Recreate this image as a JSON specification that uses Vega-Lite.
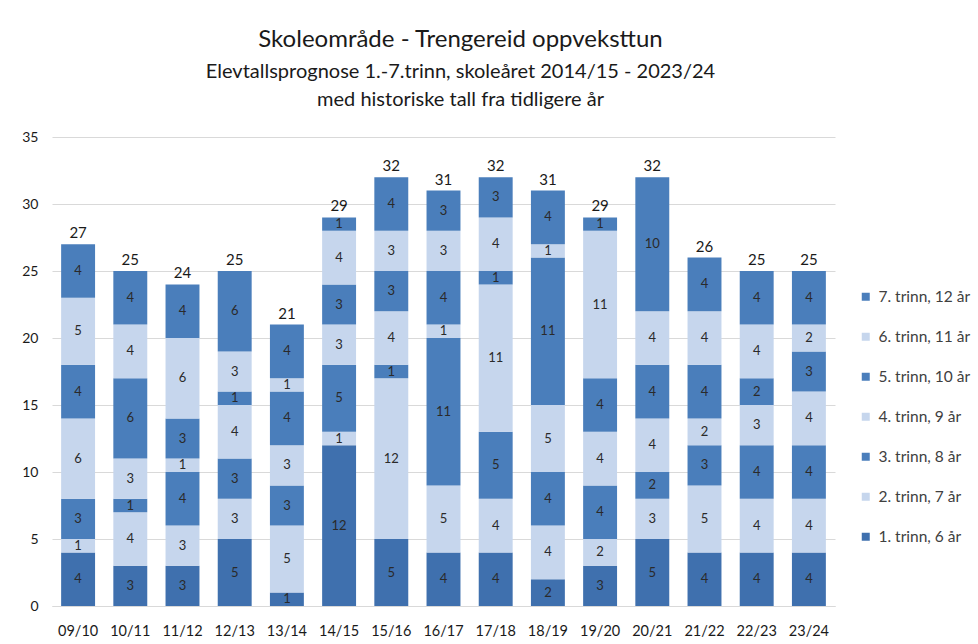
{
 "$schema": "https://vega.github.io/schema/vega-lite/v6.json",
 "width": 783, "height": 469,
 "autosize": {"type": "none"},
 "padding": {"left": 52, "top": 137, "right": 143, "bottom": 38},
 "background": "white",
 "config": {"font": "Lato", "view": {"stroke": null}},
 "title": {
  "text": "Skoleområde - Trengereid oppveksttun",
  "subtitle": ["Elevtallsprognose 1.-7.trinn, skoleåret 2014/15 - 2023/24", "med historiske tall fra tidligere år"],
  "fontSize": 24, "fontWeight": "normal", "subtitleFontSize": 20,
  "color": "#1a1a1a", "subtitleColor": "#1a1a1a",
  "anchor": "middle", "dx": 17, "offset": 20, "subtitlePadding": 10, "subtitleLineHeight": 28
 },
 "datasets": {
  "d": [
   {"year":"09/10","grade":"1. trinn, 6 år","g":1,"v":4},{"year":"09/10","grade":"2. trinn, 7 år","g":2,"v":1},{"year":"09/10","grade":"3. trinn, 8 år","g":3,"v":3},{"year":"09/10","grade":"4. trinn, 9 år","g":4,"v":6},{"year":"09/10","grade":"5. trinn, 10 år","g":5,"v":4},{"year":"09/10","grade":"6. trinn, 11 år","g":6,"v":5},{"year":"09/10","grade":"7. trinn, 12 år","g":7,"v":4},
   {"year":"10/11","grade":"1. trinn, 6 år","g":1,"v":3},{"year":"10/11","grade":"2. trinn, 7 år","g":2,"v":4},{"year":"10/11","grade":"3. trinn, 8 år","g":3,"v":1},{"year":"10/11","grade":"4. trinn, 9 år","g":4,"v":3},{"year":"10/11","grade":"5. trinn, 10 år","g":5,"v":6},{"year":"10/11","grade":"6. trinn, 11 år","g":6,"v":4},{"year":"10/11","grade":"7. trinn, 12 år","g":7,"v":4},
   {"year":"11/12","grade":"1. trinn, 6 år","g":1,"v":3},{"year":"11/12","grade":"2. trinn, 7 år","g":2,"v":3},{"year":"11/12","grade":"3. trinn, 8 år","g":3,"v":4},{"year":"11/12","grade":"4. trinn, 9 år","g":4,"v":1},{"year":"11/12","grade":"5. trinn, 10 år","g":5,"v":3},{"year":"11/12","grade":"6. trinn, 11 år","g":6,"v":6},{"year":"11/12","grade":"7. trinn, 12 år","g":7,"v":4},
   {"year":"12/13","grade":"1. trinn, 6 år","g":1,"v":5},{"year":"12/13","grade":"2. trinn, 7 år","g":2,"v":3},{"year":"12/13","grade":"3. trinn, 8 år","g":3,"v":3},{"year":"12/13","grade":"4. trinn, 9 år","g":4,"v":4},{"year":"12/13","grade":"5. trinn, 10 år","g":5,"v":1},{"year":"12/13","grade":"6. trinn, 11 år","g":6,"v":3},{"year":"12/13","grade":"7. trinn, 12 år","g":7,"v":6},
   {"year":"13/14","grade":"1. trinn, 6 år","g":1,"v":1},{"year":"13/14","grade":"2. trinn, 7 år","g":2,"v":5},{"year":"13/14","grade":"3. trinn, 8 år","g":3,"v":3},{"year":"13/14","grade":"4. trinn, 9 år","g":4,"v":3},{"year":"13/14","grade":"5. trinn, 10 år","g":5,"v":4},{"year":"13/14","grade":"6. trinn, 11 år","g":6,"v":1},{"year":"13/14","grade":"7. trinn, 12 år","g":7,"v":4},
   {"year":"14/15","grade":"1. trinn, 6 år","g":1,"v":12},{"year":"14/15","grade":"2. trinn, 7 år","g":2,"v":1},{"year":"14/15","grade":"3. trinn, 8 år","g":3,"v":5},{"year":"14/15","grade":"4. trinn, 9 år","g":4,"v":3},{"year":"14/15","grade":"5. trinn, 10 år","g":5,"v":3},{"year":"14/15","grade":"6. trinn, 11 år","g":6,"v":4},{"year":"14/15","grade":"7. trinn, 12 år","g":7,"v":1},
   {"year":"15/16","grade":"1. trinn, 6 år","g":1,"v":5},{"year":"15/16","grade":"2. trinn, 7 år","g":2,"v":12},{"year":"15/16","grade":"3. trinn, 8 år","g":3,"v":1},{"year":"15/16","grade":"4. trinn, 9 år","g":4,"v":4},{"year":"15/16","grade":"5. trinn, 10 år","g":5,"v":3},{"year":"15/16","grade":"6. trinn, 11 år","g":6,"v":3},{"year":"15/16","grade":"7. trinn, 12 år","g":7,"v":4},
   {"year":"16/17","grade":"1. trinn, 6 år","g":1,"v":4},{"year":"16/17","grade":"2. trinn, 7 år","g":2,"v":5},{"year":"16/17","grade":"3. trinn, 8 år","g":3,"v":11},{"year":"16/17","grade":"4. trinn, 9 år","g":4,"v":1},{"year":"16/17","grade":"5. trinn, 10 år","g":5,"v":4},{"year":"16/17","grade":"6. trinn, 11 år","g":6,"v":3},{"year":"16/17","grade":"7. trinn, 12 år","g":7,"v":3},
   {"year":"17/18","grade":"1. trinn, 6 år","g":1,"v":4},{"year":"17/18","grade":"2. trinn, 7 år","g":2,"v":4},{"year":"17/18","grade":"3. trinn, 8 år","g":3,"v":5},{"year":"17/18","grade":"4. trinn, 9 år","g":4,"v":11},{"year":"17/18","grade":"5. trinn, 10 år","g":5,"v":1},{"year":"17/18","grade":"6. trinn, 11 år","g":6,"v":4},{"year":"17/18","grade":"7. trinn, 12 år","g":7,"v":3},
   {"year":"18/19","grade":"1. trinn, 6 år","g":1,"v":2},{"year":"18/19","grade":"2. trinn, 7 år","g":2,"v":4},{"year":"18/19","grade":"3. trinn, 8 år","g":3,"v":4},{"year":"18/19","grade":"4. trinn, 9 år","g":4,"v":5},{"year":"18/19","grade":"5. trinn, 10 år","g":5,"v":11},{"year":"18/19","grade":"6. trinn, 11 år","g":6,"v":1},{"year":"18/19","grade":"7. trinn, 12 år","g":7,"v":4},
   {"year":"19/20","grade":"1. trinn, 6 år","g":1,"v":3},{"year":"19/20","grade":"2. trinn, 7 år","g":2,"v":2},{"year":"19/20","grade":"3. trinn, 8 år","g":3,"v":4},{"year":"19/20","grade":"4. trinn, 9 år","g":4,"v":4},{"year":"19/20","grade":"5. trinn, 10 år","g":5,"v":4},{"year":"19/20","grade":"6. trinn, 11 år","g":6,"v":11},{"year":"19/20","grade":"7. trinn, 12 år","g":7,"v":1},
   {"year":"20/21","grade":"1. trinn, 6 år","g":1,"v":5},{"year":"20/21","grade":"2. trinn, 7 år","g":2,"v":3},{"year":"20/21","grade":"3. trinn, 8 år","g":3,"v":2},{"year":"20/21","grade":"4. trinn, 9 år","g":4,"v":4},{"year":"20/21","grade":"5. trinn, 10 år","g":5,"v":4},{"year":"20/21","grade":"6. trinn, 11 år","g":6,"v":4},{"year":"20/21","grade":"7. trinn, 12 år","g":7,"v":10},
   {"year":"21/22","grade":"1. trinn, 6 år","g":1,"v":4},{"year":"21/22","grade":"2. trinn, 7 år","g":2,"v":5},{"year":"21/22","grade":"3. trinn, 8 år","g":3,"v":3},{"year":"21/22","grade":"4. trinn, 9 år","g":4,"v":2},{"year":"21/22","grade":"5. trinn, 10 år","g":5,"v":4},{"year":"21/22","grade":"6. trinn, 11 år","g":6,"v":4},{"year":"21/22","grade":"7. trinn, 12 år","g":7,"v":4},
   {"year":"22/23","grade":"1. trinn, 6 år","g":1,"v":4},{"year":"22/23","grade":"2. trinn, 7 år","g":2,"v":4},{"year":"22/23","grade":"3. trinn, 8 år","g":3,"v":4},{"year":"22/23","grade":"4. trinn, 9 år","g":4,"v":3},{"year":"22/23","grade":"5. trinn, 10 år","g":5,"v":2},{"year":"22/23","grade":"6. trinn, 11 år","g":6,"v":4},{"year":"22/23","grade":"7. trinn, 12 år","g":7,"v":4},
   {"year":"23/24","grade":"1. trinn, 6 år","g":1,"v":4},{"year":"23/24","grade":"2. trinn, 7 år","g":2,"v":4},{"year":"23/24","grade":"3. trinn, 8 år","g":3,"v":4},{"year":"23/24","grade":"4. trinn, 9 år","g":4,"v":4},{"year":"23/24","grade":"5. trinn, 10 år","g":5,"v":3},{"year":"23/24","grade":"6. trinn, 11 år","g":6,"v":2},{"year":"23/24","grade":"7. trinn, 12 år","g":7,"v":4}
  ]
 },
 "data": {"name": "d"},
 "encoding": {
  "x": {"field": "year", "type": "nominal", "sort": null,
   "scale": {"paddingInner": 0.35, "paddingOuter": 0.175},
   "axis": {"title": null, "labelAngle": 0, "ticks": false, "domainColor": "#d9d9d9", "labelPadding": 18, "labelFontSize": 14.5, "labelColor": "#1a1a1a"}}
 },
 "layer": [
  {
   "mark": {"type": "bar"},
   "encoding": {
    "y": {"field": "v", "type": "quantitative", "stack": "zero",
     "scale": {"domain": [0, 35], "nice": false},
     "axis": {"title": null, "values": [0,5,10,15,20,25,30,35], "domain": false, "ticks": false, "labelPadding": 14, "labelFontSize": 14, "labelColor": "#1a1a1a", "gridColor": "#d9d9d9"}},
    "color": {"field": "grade", "type": "nominal",
     "scale": {"domain": ["1. trinn, 6 år","2. trinn, 7 år","3. trinn, 8 år","4. trinn, 9 år","5. trinn, 10 år","6. trinn, 11 år","7. trinn, 12 år"],
      "range": ["#3f70ae","#c6d6ed","#4a7ebb","#c6d6ed","#4a7ebb","#c6d6ed","#4a7ebb"]},
     "legend": {"orient": "none", "legendX": 806, "legendY": 152, "title": null,
      "values": ["7. trinn, 12 år","6. trinn, 11 år","5. trinn, 10 år","4. trinn, 9 år","3. trinn, 8 år","2. trinn, 7 år","1. trinn, 6 år"],
      "symbolType": "square", "symbolSize": 64, "symbolStrokeWidth": 0, "labelFontSize": 15.5, "labelColor": "#404040", "rowPadding": 23, "labelOffset": 5}},
    "order": {"field": "g", "type": "quantitative"}
   }
  },
  {
   "transform": [
    {"stack": "v", "groupby": ["year"], "sort": [{"field": "g", "order": "ascending"}], "as": ["y0", "y1"]},
    {"calculate": "(datum.y0 + datum.y1) / 2", "as": "mid"}
   ],
   "mark": {"type": "text", "fontSize": 13, "color": "#2a2a2a", "baseline": "middle"},
   "encoding": {
    "y": {"field": "mid", "type": "quantitative"},
    "text": {"field": "v", "type": "quantitative"}
   }
  },
  {
   "mark": {"type": "text", "fontSize": 15, "color": "#1a1a1a", "baseline": "bottom", "dy": -3},
   "encoding": {
    "y": {"aggregate": "sum", "field": "v", "type": "quantitative"},
    "text": {"aggregate": "sum", "field": "v", "type": "quantitative"}
   }
  }
 ]
}
